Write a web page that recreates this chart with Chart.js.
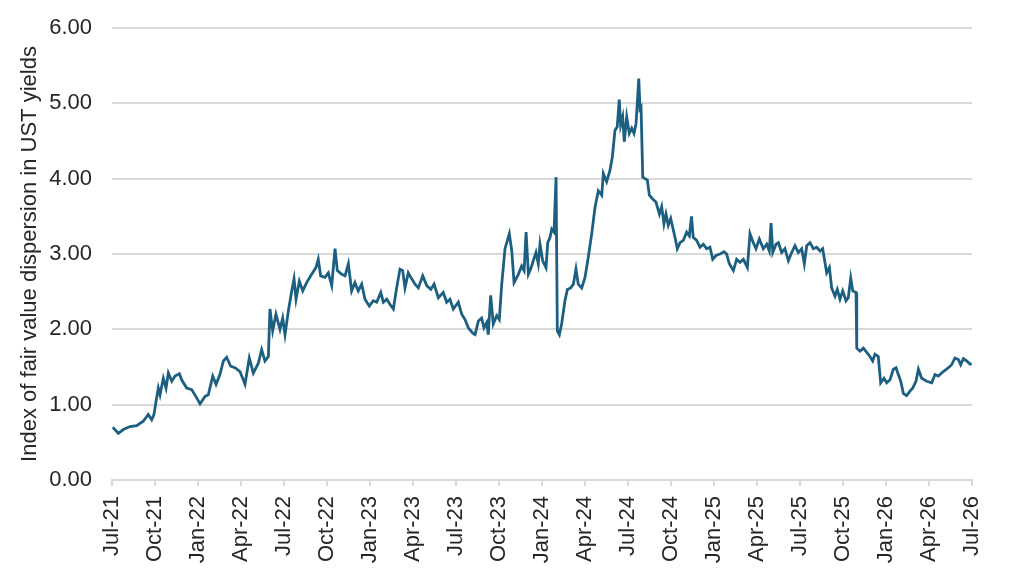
<!DOCTYPE html>
<html>
<head>
<meta charset="utf-8">
<script src="https://cdn.jsdelivr.net/npm/chart.js@4/dist/chart.umd.min.js"></script>
<style>
  html, body { margin: 0; padding: 0; background: #ffffff; }
  #wrap { width: 1024px; height: 579px; }
</style>
</head>
<body>
<div id="wrap"><canvas id="dispersionChart" width="1024" height="579"></canvas></div>
<script>
"use strict";

// ? DATA (months since Jul-21 / index value)
// ! ========================== ! \\
const tickLabels = [
  "Jul-21", "Oct-21", "Jan-22", "Apr-22", "Jul-22", "Oct-22", "Jan-23",
  "Apr-23", "Jul-23", "Oct-23", "Jan-24", "Apr-24", "Jul-24", "Oct-24",
  "Jan-25", "Apr-25", "Jul-25", "Oct-25", "Jan-26", "Apr-26", "Jul-26",
];

const monthPos = [
  0.05, 0.44, 0.79, 1.26, 1.72, 2.18, 2.53, 2.77, 2.93, 3.07, 3.23, 3.35, 3.58, 3.77,
  3.93, 4.17, 4.40, 4.70, 4.86, 5.21, 5.56, 5.91, 6.14, 6.49, 6.72, 7.03, 7.26, 7.53,
  7.77, 8.00, 8.28, 8.58, 8.93, 9.28, 9.58, 9.86, 10.21, 10.44, 10.67, 10.91, 11.02,
  11.21, 11.44, 11.72, 11.91, 12.07, 12.30, 12.54, 12.70, 12.84, 13.07, 13.31, 13.58,
  13.93, 14.23, 14.39, 14.56, 14.86, 15.09, 15.33, 15.56, 15.72, 16.03, 16.26, 16.49,
  16.72, 16.95, 17.18, 17.42, 17.65, 17.95, 18.23, 18.47, 18.75, 18.93, 19.17, 19.40,
  19.63, 19.86, 20.09, 20.28, 20.44, 20.67, 20.91, 21.14, 21.37, 21.68, 21.96, 22.24,
  22.47, 22.77, 23.11, 23.35, 23.58, 23.81, 24.16, 24.40, 24.63, 24.86, 25.17, 25.33,
  25.56, 25.79, 25.95, 26.14, 26.25, 26.42, 26.60, 26.84, 27.02, 27.19, 27.42, 27.72,
  27.89, 28.05, 28.35, 28.58, 28.75, 28.89, 29.05, 29.21, 29.39, 29.58, 29.74, 29.86,
  30.05, 30.28, 30.40, 30.56, 30.68, 30.84, 30.98, 31.07, 31.21, 31.37, 31.60, 31.77,
  32.00, 32.19, 32.37, 32.53, 32.77, 33.00, 33.23, 33.47, 33.70, 33.93, 34.17, 34.28,
  34.51, 34.74, 34.91, 35.09, 35.25, 35.39, 35.49, 35.63, 35.74, 35.91, 36.09, 36.26,
  36.42, 36.56, 36.65, 36.75, 36.84, 36.91, 37.03, 37.19, 37.35, 37.49, 37.72, 37.95,
  38.19, 38.35, 38.51, 38.65, 38.81, 38.98, 39.28, 39.44, 39.63, 39.86, 40.09, 40.28,
  40.43, 40.55, 40.79, 41.02, 41.26, 41.49, 41.72, 41.91, 42.14, 42.42, 42.70, 42.88,
  43.07, 43.35, 43.58, 43.81, 44.05, 44.33, 44.51, 44.74, 44.93, 45.16, 45.44, 45.68,
  45.86, 45.98, 46.10, 46.33, 46.49, 46.72, 46.95, 47.19, 47.42, 47.65, 47.88, 48.12,
  48.30, 48.47, 48.70, 48.93, 49.16, 49.40, 49.58, 49.74, 49.86, 50.05, 50.21, 50.44,
  50.60, 50.79, 50.98, 51.21, 51.37, 51.54, 51.68, 51.91, 51.96, 52.19, 52.42, 52.67,
  52.88, 53.07, 53.23, 53.46, 53.63, 53.86, 54.05, 54.28, 54.51, 54.70, 54.86, 55.03,
  55.21, 55.44, 55.67, 55.86, 56.09, 56.26, 56.49, 56.84, 57.19, 57.42, 57.65, 58.00,
  58.35, 58.58, 58.81, 59.05, 59.21, 59.40, 59.63, 59.86, 59.98,
];

const dispersion = [
  0.70, 0.62, 0.67, 0.71, 0.72, 0.78, 0.87, 0.80, 0.87, 1.04, 1.22, 1.13, 1.35, 1.22,
  1.42, 1.31, 1.38, 1.41, 1.33, 1.22, 1.20, 1.09, 1.01, 1.11, 1.13, 1.38, 1.27, 1.40,
  1.58, 1.63, 1.51, 1.49, 1.44, 1.27, 1.62, 1.42, 1.55, 1.73, 1.58, 1.64, 2.27,
  1.98, 2.20, 2.00, 2.15, 1.93, 2.24, 2.51, 2.67, 2.40, 2.64, 2.51, 2.62,
  2.73, 2.82, 2.93, 2.71, 2.69, 2.75, 2.58, 3.07, 2.78, 2.73, 2.71, 2.87,
  2.51, 2.62, 2.51, 2.60, 2.40, 2.31, 2.38, 2.36, 2.49, 2.36, 2.40, 2.33,
  2.27, 2.55, 2.80, 2.78, 2.55, 2.75, 2.67, 2.60, 2.55, 2.71, 2.58, 2.53,
  2.60, 2.42, 2.49, 2.36, 2.40, 2.27, 2.36, 2.20, 2.13, 2.02, 1.95, 1.93,
  2.11, 2.15, 2.02, 2.09, 1.93, 2.45, 2.07, 2.18, 2.13, 2.60, 3.07, 3.27,
  3.04, 2.62, 2.73, 2.84, 2.78, 3.29, 2.73, 2.80, 2.91, 3.02, 2.87, 3.13,
  2.91, 2.82, 3.15, 3.22, 3.33, 3.29, 4.02, 1.98, 1.93, 2.07, 2.38, 2.53,
  2.55, 2.60, 2.80, 2.60, 2.55, 2.69, 2.96, 3.27, 3.62, 3.84, 3.78, 4.07,
  3.96, 4.11, 4.29, 4.64, 4.69, 5.05, 4.71, 4.82, 4.49, 4.82, 4.60, 4.67,
  4.60, 4.73, 5.00, 5.33, 4.93, 4.95, 4.02, 4.00, 3.98, 3.78, 3.73, 3.69,
  3.53, 3.63, 3.40, 3.53, 3.38, 3.47, 3.22, 3.07, 3.15, 3.18, 3.29, 3.24,
  3.50, 3.22, 3.18, 3.09, 3.13, 3.07, 3.09, 2.93, 2.98, 3.00, 3.03, 3.00,
  2.87, 2.78, 2.93, 2.89, 2.93, 2.82, 3.27, 3.15, 3.07, 3.20, 3.07, 3.13,
  3.04, 3.41, 3.02, 3.13, 3.15, 3.02, 3.07, 2.91, 3.02, 3.11, 3.02, 3.07,
  2.87, 3.11, 3.15, 3.07, 3.09, 3.04, 3.07, 2.89, 2.75, 2.82, 2.55, 2.44,
  2.53, 2.40, 2.51, 2.38, 2.42, 2.68, 2.51, 2.49, 1.75, 1.71, 1.75, 1.69,
  1.64, 1.58, 1.67, 1.64, 1.29, 1.35, 1.29, 1.33, 1.47, 1.49, 1.40, 1.31,
  1.15, 1.12, 1.18, 1.22, 1.31, 1.47, 1.35, 1.31, 1.29, 1.40, 1.38, 1.44,
  1.49, 1.53, 1.62, 1.60, 1.53, 1.61, 1.58, 1.54, 1.54,
];

const yTicks = [0, 1, 2, 3, 4, 5, 6];

// ? CHART
// ! ========================== ! \\
const FONT = "'Liberation Sans', Arial, sans-serif";
const GRID = "#d9d9d9";
const TEXT = "#262626";

const points = monthPos.map((m, i) => ({ x: m, y: dispersion[i] }));

const config = {
  type: "line",
  data: {
    datasets: [
      {
        label: "Index of fair value dispersion in UST yields",
        data: points,
        borderColor: "#1d5f80",
        backgroundColor: "#1d5f80",
        borderWidth: 2.8,
        pointRadius: 0,
        tension: 0,
      },
    ],
  },
  options: {
    responsive: false,
    animation: false,
    layout: {
      padding: { top: 28, right: 52, bottom: 0, left: 0 },
    },
    plugins: {
      legend: { display: false },
      tooltip: { enabled: false },
    },
    scales: {
      x: {
        type: "linear",
        min: 0,
        max: (tickLabels.length - 1) * 3,
        afterBuildTicks: (scale) => {
          scale.ticks = tickLabels.map((_, i) => ({ value: i * 3 }));
        },
        afterFit: (scale) => {
          scale.height = 99;
          scale.paddingLeft = 0;
          scale.paddingRight = 0;
        },
        border: { display: true, color: GRID, width: 2 },
        grid: {
          drawOnChartArea: false,
          drawTicks: true,
          tickLength: 6,
          color: GRID,
          lineWidth: 2,
        },
        ticks: {
          autoSkip: false,
          minRotation: 90,
          maxRotation: 90,
          padding: 10,
          color: TEXT,
          font: { family: FONT, size: 22 },
          callback: (value) => tickLabels[Math.round(value / 3)],
        },
      },
      y: {
        min: 0,
        max: 6,
        afterBuildTicks: (scale) => {
          scale.ticks = yTicks.map((v) => ({ value: v }));
        },
        afterFit: (scale) => {
          scale.width = 112;
          scale.paddingTop = 0;
          scale.paddingBottom = 0;
        },
        border: { display: false },
        grid: {
          color: GRID,
          lineWidth: 2,
          drawTicks: false,
        },
        ticks: {
          padding: 20,
          color: TEXT,
          font: { family: FONT, size: 22 },
          callback: (value) => Number(value).toFixed(2),
        },
        title: {
          display: true,
          text: "Index of fair value dispersion in UST yields",
          color: TEXT,
          font: { family: FONT, size: 22 },
          padding: { top: 17, bottom: 0 },
        },
      },
    },
  },
  plugins: [
    {
      id: "bgColor",
      beforeDraw: (chart) => {
        const { ctx, width, height } = chart;
        ctx.save();
        ctx.fillStyle = "#ffffff";
        ctx.fillRect(0, 0, width, height);
        ctx.restore();
      },
    },
  ],
};

const ctx = document.getElementById("dispersionChart").getContext("2d");
const chart = new Chart(ctx, config);
</script>
</body>
</html>
